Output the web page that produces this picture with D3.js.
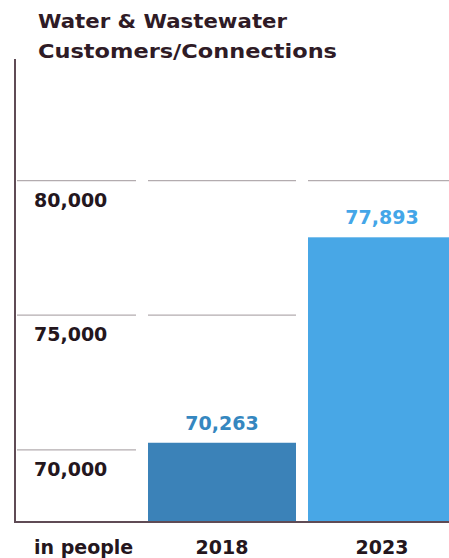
<!DOCTYPE html>
<html>
<head>
<meta charset="utf-8">
<script src="https://cdn.jsdelivr.net/npm/d3@7/dist/d3.min.js"></script>
<style>
  html, body { margin: 0; padding: 0; background: #ffffff; }
  svg { display: block; }
  text { font-family: "DejaVu Sans", "Liberation Sans", sans-serif; font-weight: bold; }
</style>
</head>
<body>
<script>
// Water & wastewater customers/connections, in people
const titleLines = ["Water & Wastewater", "Customers/Connections"];
const years = ["2018", "2023"];
const customers = [70263, 77893];
const tickValues = [70000, 75000, 80000];
const unitLabel = "in people";
const barColors = ["#3b82b8", "#48a7e6"];
const valueColors = ["#3587c0", "#44a6e8"];

const width = 449, height = 558;
const axisX = 15, baseY = 522, axisTop = 59;

const svg = d3.select("body").append("svg")
  .attr("width", width).attr("height", height);

// Title, set in a wide heavy face
const titleWidths = [249, 299];
svg.append("g").selectAll("text")
  .data(titleLines).join("text")
  .attr("x", 38)
  .attr("y", (d, i) => 28 + i * 30)
  .attr("font-size", 20)
  .attr("textLength", (d, i) => titleWidths[i])
  .attr("lengthAdjust", "spacingAndGlyphs")
  .attr("fill", "#2f1b26")
  .text(d => d);

// Scales
const x = d3.scaleBand()
  .domain(years)
  .range([148, 456])
  .paddingInner(0.075)
  .paddingOuter(0);

const y = d3.scaleLinear()
  .domain([67320, 84515])
  .range([baseY, axisTop]);

// Gridline segments: one under the tick-label column, one across each bar band
const gap = x.step() - x.bandwidth();
const segments = [[axisX + 2, x(years[0]) - gap]]
  .concat(years.map(c => [x(c), x(c) + x.bandwidth()]));

const grid = svg.append("g");
tickValues.forEach(v => {
  segments.forEach(([x0, x1]) => {
    grid.append("line")
      .attr("x1", x0).attr("x2", x1)
      .attr("y1", y(v)).attr("y2", y(v))
      .attr("stroke", "#b3acaf")
      .attr("stroke-width", 1.2);
  });
});

// Tick labels sit just below their gridline
svg.append("g").selectAll("text")
  .data(tickValues).join("text")
  .attr("x", 34)
  .attr("y", d => y(d) + 26)
  .attr("font-size", 19)
  .attr("fill", "#24161d")
  .text(d => d3.format(",")(d));

// Bars
svg.append("g").selectAll("rect")
  .data(years).join("rect")
  .attr("x", d => x(d))
  .attr("width", x.bandwidth())
  .attr("y", (d, i) => y(customers[i]))
  .attr("height", (d, i) => baseY - y(customers[i]))
  .attr("fill", (d, i) => barColors[i]);

// Value labels above bars
svg.append("g").selectAll("text")
  .data(years).join("text")
  .attr("x", d => x(d) + x.bandwidth() / 2)
  .attr("y", (d, i) => y(customers[i]) - 13)
  .attr("text-anchor", "middle")
  .attr("font-size", 19)
  .attr("fill", (d, i) => valueColors[i])
  .text((d, i) => d3.format(",")(customers[i]));

// Axis lines
svg.append("line")
  .attr("x1", axisX).attr("x2", axisX)
  .attr("y1", axisTop).attr("y2", baseY + 1)
  .attr("stroke", "#5f4b55").attr("stroke-width", 2);
svg.append("line")
  .attr("x1", axisX - 1).attr("x2", width)
  .attr("y1", baseY).attr("y2", baseY)
  .attr("stroke", "#5f4b55").attr("stroke-width", 2);

// Category labels along the bottom
svg.append("text")
  .attr("x", 34).attr("y", 554)
  .attr("font-size", 19)
  .attr("fill", "#24161d")
  .text(unitLabel);

svg.append("g").selectAll("text")
  .data(years).join("text")
  .attr("x", d => x(d) + x.bandwidth() / 2)
  .attr("y", 554)
  .attr("text-anchor", "middle")
  .attr("font-size", 19)
  .attr("fill", "#24161d")
  .text(d => d);
</script>
</body>
</html>
